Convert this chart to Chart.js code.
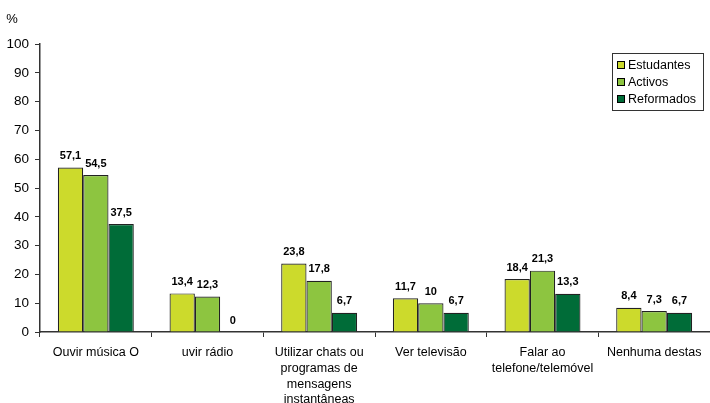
<!DOCTYPE html>
<html lang="pt">
<head>
    <meta charset="UTF-8">
    <title>Actividades</title>
    <script src="https://cdn.jsdelivr.net/npm/chart.js"></script>
    <style>
        body { margin: 0; background: #fff; }
        #wrap { width: 710px; height: 403px; position: relative; }
    </style>
</head>
<body>
    <div id="wrap"><canvas id="chart"></canvas></div>
    <script>
        const categories = [
            'Ouvir música O',
            'uvir rádio',
            ['Utilizar chats ou', 'programas de', 'mensagens', 'instantâneas'],
            'Ver televisão',
            ['Falar ao', 'telefone/telemóvel'],
            'Nenhuma destas'
        ];
        const estudantes = [57.1, 13.4, 23.8, 11.7, 18.4, 8.4];
        const activos = [54.5, 12.3, 17.8, 10, 21.3, 7.3];
        const reformados = [37.5, 0, 6.7, 6.7, 13.3, 6.7];
        const yTicks = [0, 10, 20, 30, 40, 50, 60, 70, 80, 90, 100];

        const font = "'Liberation Sans', Arial, sans-serif";

        const valueLabels = {
            id: 'valueLabels',
            afterDatasetsDraw(chart) {
                const ctx = chart.ctx;
                ctx.save();
                ctx.font = 'bold 11px ' + font;
                ctx.fillStyle = '#000';
                ctx.textAlign = 'center';
                ctx.textBaseline = 'bottom';
                chart.data.datasets.forEach((ds, i) => {
                    chart.getDatasetMeta(i).data.forEach((bar, j) => {
                        const txt = String(ds.data[j]).replace('.', ',');
                        ctx.fillText(txt, bar.x, bar.y - 6);
                    });
                });
                // unit label on top of the y axis
                ctx.font = '13px ' + font;
                ctx.textAlign = 'center';
                ctx.textBaseline = 'middle';
                ctx.fillText('%', 12, 19);
                ctx.restore();
            }
        };

        const boxLegend = {
            id: 'boxLegend',
            afterDraw(chart) {
                const ctx = chart.ctx;
                const x = 612, y = 53, w = 91, h = 57;
                ctx.save();
                ctx.fillStyle = '#fff';
                ctx.fillRect(x, y, w, h);
                ctx.strokeStyle = '#333';
                ctx.lineWidth = 1;
                ctx.strokeRect(x + 0.5, y + 0.5, w, h);
                ctx.font = '12.5px ' + font;
                ctx.textBaseline = 'middle';
                ctx.textAlign = 'left';
                chart.data.datasets.forEach((ds, i) => {
                    const cy = y + 12 + i * 17;
                    ctx.fillStyle = ds.backgroundColor;
                    ctx.fillRect(x + 5, cy - 4, 8, 8);
                    ctx.strokeStyle = '#000';
                    ctx.strokeRect(x + 5.5, cy - 3.5, 7, 7);
                    ctx.fillStyle = '#000';
                    ctx.fillText(ds.label, x + 16, cy + 1);
                });
                ctx.restore();
            }
        };

        new Chart(document.getElementById('chart'), {
            type: 'bar',
            data: {
                labels: categories,
                datasets: [
                    { label: 'Estudantes', data: estudantes, backgroundColor: '#CCDA2C' },
                    { label: 'Activos', data: activos, backgroundColor: '#8DC540' },
                    { label: 'Reformados', data: reformados, backgroundColor: '#006C38' }
                ]
            },
            options: {
                responsive: true,
                maintainAspectRatio: false,
                animation: false,
                layout: { padding: { top: 44, right: -2, left: 0, bottom: 0 } },
                datasets: {
                    bar: {
                        borderColor: '#222',
                        borderWidth: 1.2,
                        categoryPercentage: 0.68,
                        barPercentage: 1
                    }
                },
                plugins: {
                    legend: { display: false },
                    tooltip: { enabled: false }
                },
                scales: {
                    x: {
                        grid: {
                            offset: true,
                            drawOnChartArea: false,
                            tickLength: 5,
                            color: '#333'
                        },
                        border: { color: '#333', width: 1.5 },
                        ticks: {
                            color: '#000',
                            font: { family: font, size: 12.5, lineHeight: 1.25 },
                            maxRotation: 0,
                            autoSkip: false,
                            padding: 8
                        },
                        afterFit(scale) { scale.height = 71; }
                    },
                    y: {
                        min: 0,
                        max: 100,
                        afterBuildTicks(scale) { scale.ticks = yTicks.map(v => ({ value: v })); },
                        grid: {
                            drawOnChartArea: false,
                            tickLength: 5,
                            color: '#333'
                        },
                        border: { color: '#333', width: 1.5 },
                        ticks: {
                            color: '#000',
                            font: { family: font, size: 13.5 },
                            padding: 6
                        },
                        afterFit(scale) { scale.width = 40; }
                    }
                }
            },
            plugins: [valueLabels, boxLegend]
        });
    </script>
</body>
</html>
